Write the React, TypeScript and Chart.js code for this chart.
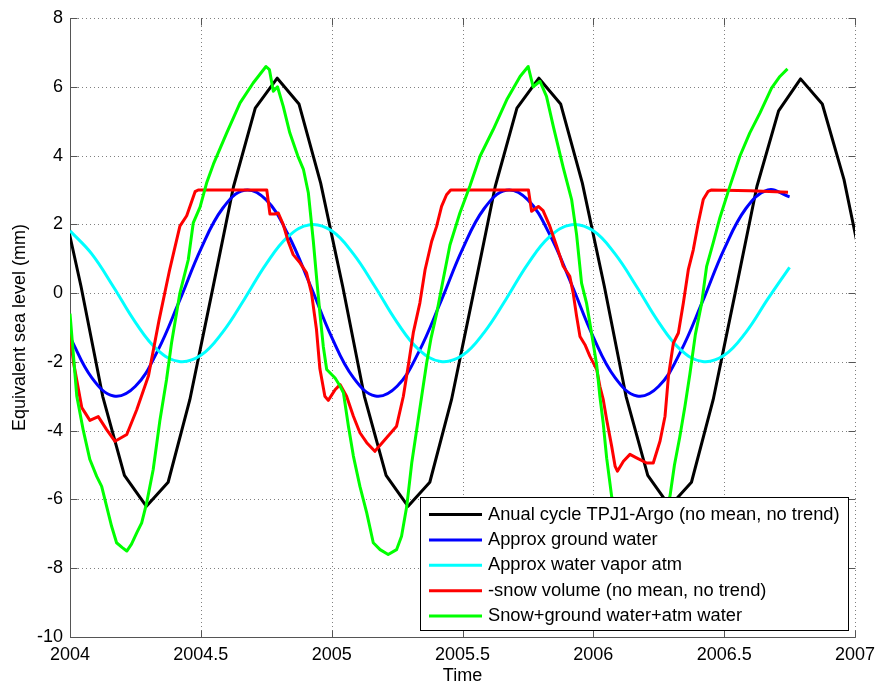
import React, { useEffect, useRef } from "react";
import { Chart, registerables } from "chart.js";

Chart.register(...registerables);

// ---------- data ----------
const blackT = [
  2003.958, 2004.042, 2004.125, 2004.208, 2004.292, 2004.375, 2004.458, 2004.542, 2004.625, 2004.708, 2004.792, 2004.875,
  2004.958, 2005.042, 2005.125, 2005.208, 2005.292, 2005.375, 2005.458, 2005.542, 2005.625, 2005.708, 2005.792, 2005.875,
  2005.958, 2006.042, 2006.125, 2006.208, 2006.292, 2006.375, 2006.458, 2006.542, 2006.625, 2006.708, 2006.792, 2006.875,
  2006.958, 2007.042,
];
const blackV = [
  3.1, 0.2, -3.0, -5.3, -6.2, -5.5, -3.1, 0.0, 3.1, 5.38, 6.25, 5.5,
  3.2, 0.2, -3.0, -5.3, -6.2, -5.5, -3.1, 0.0, 3.1, 5.38, 6.25, 5.5,
  3.2, 0.2, -3.0, -5.3, -6.2, -5.5, -3.1, 0.0, 3.1, 5.3, 6.23, 5.5,
  3.3, 0.2,
];

const monthT = [
  2004.0, 2004.083, 2004.167, 2004.25, 2004.333, 2004.417, 2004.5, 2004.583, 2004.667, 2004.75, 2004.833, 2004.917,
  2005.0, 2005.083, 2005.167, 2005.25, 2005.333, 2005.417, 2005.5, 2005.583, 2005.667, 2005.75, 2005.833, 2005.917,
  2006.0, 2006.083, 2006.167, 2006.25, 2006.333, 2006.417, 2006.5, 2006.583, 2006.667, 2006.75,
];
const blueV = [
  -1.28, -2.46, -2.99, -2.71, -1.71, -0.25, 1.28, 2.46, 2.99, 2.71, 1.71, 0.25,
  -1.28, -2.46, -2.99, -2.71, -1.71, -0.25, 1.28, 2.46, 2.99, 2.71, 1.71, 0.25,
  -1.28, -2.46, -2.99, -2.71, -1.71, -0.25, 1.28, 2.46, 3.0, 2.8,
];
const cyanV = [
  1.81, 1.14, 0.17, -0.85, -1.64, -1.99, -1.81, -1.14, -0.17, 0.85, 1.64, 1.99,
  1.81, 1.14, 0.17, -0.85, -1.64, -1.99, -1.81, -1.14, -0.17, 0.85, 1.64, 1.99,
  1.81, 1.14, 0.17, -0.85, -1.64, -1.99, -1.81, -1.14, -0.17, 0.75,
];

const redT = [
  2004.0, 2004.013, 2004.045, 2004.076, 2004.108, 2004.14, 2004.172, 2004.217, 2004.255, 2004.3,
  2004.34, 2004.38, 2004.4, 2004.42, 2004.446, 2004.478, 2004.49, 2004.752, 2004.764, 2004.783,
  2004.796, 2004.815, 2004.834, 2004.853, 2004.879, 2004.904, 2004.923, 2004.942, 2004.955, 2004.974,
  2004.987, 2005.013, 2005.032, 2005.057, 2005.083, 2005.108, 2005.134, 2005.165, 2005.204, 2005.248,
  2005.274, 2005.293, 2005.312, 2005.337, 2005.357, 2005.382, 2005.401, 2005.42, 2005.439, 2005.455,
  2005.752, 2005.764, 2005.79, 2005.808, 2005.834, 2005.86, 2005.885, 2005.91, 2005.923, 2005.936,
  2005.949, 2005.968, 2005.987, 2006.0, 2006.013, 2006.025, 2006.038, 2006.051, 2006.07, 2006.083,
  2006.092, 2006.115, 2006.14, 2006.165, 2006.204, 2006.229, 2006.255, 2006.274, 2006.287, 2006.306,
  2006.325, 2006.344, 2006.363, 2006.382, 2006.401, 2006.42, 2006.439, 2006.452, 2006.6, 2006.744,
];
const redV = [
  -1.2, -2.0, -3.33, -3.7, -3.59, -3.97, -4.31, -4.11, -3.39, -2.4,
  -0.8, 0.65, 1.3, 1.95, 2.25, 2.95, 3.0, 3.0, 2.3, 2.3,
  2.33, 1.99, 1.5, 1.12, 0.88, 0.59, 0.0, -1.06, -2.2, -3.0,
  -3.12, -2.81, -2.66, -3.0, -3.58, -4.06, -4.35, -4.6, -4.26, -3.87,
  -3.0, -2.1, -1.15, -0.29, 0.68, 1.5, 1.94, 2.52, 2.86, 3.0,
  3.0, 2.38, 2.52, 2.4, 1.94, 1.36, 0.78, 0.49, 0.0, -0.67,
  -1.26, -1.5, -1.84, -2.03, -2.22, -2.71, -3.1, -3.68, -4.45, -5.03,
  -5.18, -4.89, -4.69, -4.79, -4.94, -4.94, -4.3, -3.58, -2.42, -1.45,
  -1.16, -0.29, 0.68, 1.26, 2.04, 2.72, 2.96, 3.0, 2.98, 2.93,
];

const greenT = [
  2004.0, 2004.026, 2004.051, 2004.076, 2004.102, 2004.121, 2004.14, 2004.159, 2004.178, 2004.2,
  2004.217, 2004.235, 2004.255, 2004.274, 2004.293, 2004.318, 2004.344, 2004.369, 2004.388, 2004.42,
  2004.452, 2004.471, 2004.497, 2004.522, 2004.548, 2004.599, 2004.65, 2004.7, 2004.749, 2004.762,
  2004.777, 2004.793, 2004.815, 2004.84, 2004.87, 2004.892, 2004.911, 2004.93, 2004.943, 2004.955,
  2004.968, 2004.981, 2005.013, 2005.032, 2005.045, 2005.064, 2005.083, 2005.108, 2005.134, 2005.159,
  2005.185, 2005.216, 2005.248, 2005.267, 2005.287, 2005.306, 2005.325, 2005.344, 2005.363, 2005.38,
  2005.401, 2005.426, 2005.452, 2005.49, 2005.528, 2005.567, 2005.617, 2005.669, 2005.72, 2005.751,
  2005.77, 2005.796, 2005.821, 2005.847, 2005.885, 2005.917, 2005.936, 2005.955, 2005.974, 2005.994,
  2006.013, 2006.025, 2006.038, 2006.051, 2006.07, 2006.1, 2006.15, 2006.2, 2006.25, 2006.293,
  2006.31, 2006.33, 2006.35, 2006.369, 2006.39, 2006.414, 2006.433, 2006.458, 2006.484, 2006.522,
  2006.56, 2006.598, 2006.637, 2006.681, 2006.713, 2006.742,
];
const greenV = [
  -0.6, -3.0, -4.0, -4.84, -5.33, -5.62, -6.2, -6.78, -7.26, -7.4,
  -7.5, -7.3, -6.97, -6.68, -6.1, -5.13, -3.68, -2.51, -1.45, 0.0,
  0.97, 2.04, 2.5, 3.2, 3.75, 4.66, 5.53, 6.11, 6.59, 6.5,
  5.87, 6.0, 5.43, 4.66, 4.0, 3.6, 2.91, 1.5, 0.39, -0.58,
  -1.55, -2.22, -2.47, -2.7, -2.9, -3.87, -4.74, -5.62, -6.39, -7.26,
  -7.46, -7.6, -7.46, -7.07, -6.2, -4.94, -3.97, -3.0, -2.03, -1.3,
  -0.6, 0.39, 1.4, 2.33, 3.11, 3.98, 4.75, 5.62, 6.3, 6.59,
  6.0, 6.16, 5.72, 4.85, 3.65, 2.72, 1.7, 0.29, -0.29, -1.2,
  -2.1, -3.0, -3.8, -4.8, -5.91, -6.8, -7.4, -7.5, -7.0, -5.9,
  -5.0, -4.2, -3.3, -2.35, -1.2, -0.29, 0.78, 1.46, 2.2, 3.11,
  3.98, 4.66, 5.24, 5.96, 6.3, 6.52,
];

const seriesLabels = [
  "Anual cycle TPJ1-Argo (no mean, no trend)",
  "Approx ground water",
  "Approx water vapor atm",
  "-snow volume (no mean, no trend)",
  "Snow+ground water+atm water",
];
const seriesColors = ["#000000", "#0000ff", "#00ffff", "#ff0000", "#00ff00"];

const xTitle = "Time";
const yTitle = "Equivalent sea level (mm)";

const FONT = "'Liberation Sans', Arial, Helvetica, sans-serif";
const AXIS_COLOR = "#555555";

const pts = (t: number[], v: number[]) => t.map((x, i) => ({ x, y: v[i] }));

const axesPlugin = {
  id: "matlabAxes",
  beforeDatasetsDraw(chart: any) {
    const { ctx, chartArea: a, scales } = chart;
    const x = scales.x;
    const y = scales.y;
    ctx.save();
    // dotted grid
    ctx.strokeStyle = "#808080";
    ctx.lineWidth = 1;
    ctx.setLineDash([1, 3]);
    x.ticks.forEach((t: any) => {
      const px = Math.round(x.getPixelForValue(t.value)) + 0.5;
      ctx.beginPath();
      ctx.moveTo(px, a.top);
      ctx.lineTo(px, a.bottom);
      ctx.stroke();
    });
    y.ticks.forEach((t: any) => {
      const py = Math.round(y.getPixelForValue(t.value)) + 0.5;
      ctx.beginPath();
      ctx.moveTo(a.left, py);
      ctx.lineTo(a.right, py);
      ctx.stroke();
    });
    ctx.setLineDash([]);
    // axis lines (left, bottom)
    ctx.strokeStyle = AXIS_COLOR;
    const L = Math.round(a.left) + 0.5;
    const B = Math.round(a.bottom) + 0.5;
    const R = Math.round(a.right) + 0.5;
    const T = Math.round(a.top) + 0.5;
    ctx.beginPath();
    ctx.moveTo(L, T);
    ctx.lineTo(L, B);
    ctx.lineTo(R, B);
    ctx.stroke();
    // inward tick marks on all sides
    const tl = 7;
    x.ticks.forEach((t: any) => {
      const px = Math.round(x.getPixelForValue(t.value)) + 0.5;
      ctx.beginPath();
      ctx.moveTo(px, B);
      ctx.lineTo(px, B - tl);
      ctx.moveTo(px, T);
      ctx.lineTo(px, T + tl);
      ctx.stroke();
    });
    y.ticks.forEach((t: any) => {
      const py = Math.round(y.getPixelForValue(t.value)) + 0.5;
      ctx.beginPath();
      ctx.moveTo(L, py);
      ctx.lineTo(L + tl, py);
      ctx.moveTo(R, py);
      ctx.lineTo(R - tl, py);
      ctx.stroke();
    });
    ctx.restore();
  },
  afterDraw(chart: any) {
    const { ctx, chartArea: a } = chart;
    const dsets = chart.data.datasets;
    ctx.save();
    ctx.font = `18.3px ${FONT}`;
    let maxW = 0;
    dsets.forEach((d: any) => {
      maxW = Math.max(maxW, ctx.measureText(d.label).width);
    });
    const inset = 7;
    const lineLeft = 9;
    const lineLen = 53;
    const textGap = 6;
    const rowH = 25.4;
    const boxW = Math.round(lineLeft + lineLen + textGap + maxW + 8);
    const boxH = Math.round(rowH * dsets.length + 6);
    const right = Math.round(a.right) - inset;
    const bottom = Math.round(a.bottom) - inset;
    const left = right - boxW;
    const top = bottom - boxH;
    ctx.fillStyle = "#ffffff";
    ctx.fillRect(left, top, boxW, boxH);
    ctx.strokeStyle = "#000000";
    ctx.lineWidth = 1;
    ctx.strokeRect(left + 0.5, top + 0.5, boxW, boxH);
    dsets.forEach((d: any, i: number) => {
      const cy = top + 17.5 + i * rowH;
      ctx.strokeStyle = d.borderColor;
      ctx.lineWidth = 3;
      ctx.beginPath();
      ctx.moveTo(left + lineLeft, cy);
      ctx.lineTo(left + lineLeft + lineLen, cy);
      ctx.stroke();
      ctx.fillStyle = "#000000";
      ctx.textBaseline = "middle";
      ctx.textAlign = "left";
      ctx.fillText(d.label, left + lineLeft + lineLen + textGap, cy);
    });
    ctx.restore();
  },
};

export default function App() {
  const ref = useRef<HTMLCanvasElement>(null);

  useEffect(() => {
    if (!ref.current) return;
    Chart.defaults.font.family = FONT;
    Chart.defaults.font.size = 18;
    Chart.defaults.color = "#000000";

    const series = [
      { t: blackT, v: blackV, tension: 0, order: 4 },
      { t: monthT, v: blueV, tension: 0.4, order: 3 },
      { t: monthT, v: cyanV, tension: 0.4, order: 2 },
      { t: redT, v: redV, tension: 0, order: 1 },
      { t: greenT, v: greenV, tension: 0, order: 0 },
    ];

    const chart = new Chart(ref.current, {
      type: "line",
      data: {
        datasets: series.map((s, i) => ({
          label: seriesLabels[i],
          data: pts(s.t, s.v),
          borderColor: seriesColors[i],
          backgroundColor: seriesColors[i],
          borderWidth: 3,
          pointRadius: 0,
          tension: s.tension,
          fill: false,
          order: s.order,
          borderJoinStyle: "round" as const,
        })),
      },
      options: {
        animation: false,
        responsive: false,
        maintainAspectRatio: false,
        events: [],
        layout: { padding: { top: 18, right: 22, left: 0, bottom: 0 } },
        plugins: {
          legend: { display: false },
          tooltip: { enabled: false },
        },
        scales: {
          x: {
            type: "linear",
            min: 2004,
            max: 2007,
            afterFit: (s: any) => {
              s.height = 46;
              s.paddingLeft = 0;
              s.paddingRight = 0;
            },
            ticks: {
              stepSize: 0.5,
              autoSkip: false,
              maxRotation: 0,
              padding: 7,
              color: "#000",
              font: { size: 18 },
              callback: (v: any) => String(v),
            },
            grid: { display: false, drawTicks: false },
            border: { display: false },
            title: {
              display: true,
              text: xTitle,
              color: "#000",
              font: { size: 18 },
              padding: { top: 0, bottom: -4 },
            },
          },
          y: {
            type: "linear",
            min: -10,
            max: 8,
            afterFit: (s: any) => {
              s.width = 70;
              s.paddingTop = 0;
              s.paddingBottom = 0;
            },
            ticks: {
              stepSize: 2,
              autoSkip: false,
              padding: 7,
              color: "#000",
              font: { size: 18 },
              callback: (v: any) => String(v),
            },
            grid: { display: false, drawTicks: false },
            border: { display: false },
            title: {
              display: true,
              text: yTitle,
              color: "#000",
              font: { size: 18 },
              padding: { top: 9, bottom: 0 },
            },
          },
        },
      },
      plugins: [axesPlugin],
    });

    return () => chart.destroy();
  }, []);

  return (
    <div style={{ position: "absolute", left: 0, top: 0, width: 877, height: 683, background: "#fff" }}>
      <canvas ref={ref} width={877} height={683} style={{ width: 877, height: 683, display: "block" }} />
    </div>
  );
}
